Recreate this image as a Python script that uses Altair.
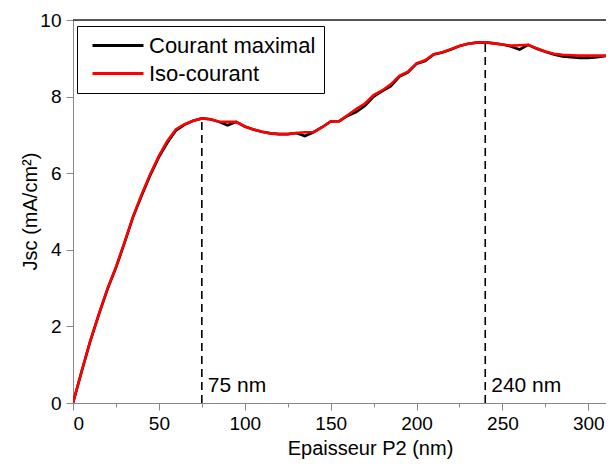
import altair as alt
import pandas as pd

# ---- data ----
thickness = list(range(0, 320, 5))
iso_courant = [0.0, 0.82, 1.62, 2.32, 2.98, 3.55, 4.20, 4.88, 5.45, 5.98,
               6.45, 6.85, 7.15, 7.28, 7.37, 7.43, 7.41, 7.35, 7.34, 7.34,
               7.22, 7.14, 7.08, 7.04, 7.02, 7.02, 7.05, 7.07, 7.07, 7.20,
               7.35, 7.36, 7.52, 7.68, 7.82, 8.04, 8.16, 8.32, 8.54, 8.65,
               8.87, 8.95, 9.11, 9.16, 9.24, 9.32, 9.38, 9.41, 9.42, 9.39,
               9.36, 9.33, 9.34, 9.35, 9.26, 9.18, 9.12, 9.09, 9.08, 9.07,
               9.07, 9.07, 9.07, 9.14]
courant_max = [0.0, 0.82, 1.60, 2.30, 2.96, 3.53, 4.18, 4.86, 5.42, 5.95,
               6.42, 6.80, 7.12, 7.27, 7.37, 7.43, 7.41, 7.34, 7.25, 7.34,
               7.22, 7.14, 7.08, 7.04, 7.02, 7.02, 7.05, 6.97, 7.07, 7.20,
               7.35, 7.36, 7.50, 7.60, 7.76, 8.00, 8.14, 8.27, 8.52, 8.63,
               8.86, 8.93, 9.10, 9.15, 9.23, 9.32, 9.38, 9.41, 9.42, 9.39,
               9.36, 9.31, 9.23, 9.35, 9.25, 9.17, 9.10, 9.05, 9.03, 9.01,
               9.01, 9.03, 9.06, 9.14]
series_names = ["Courant maximal", "Iso-courant"]
series_colors = ["black", "red"]

peak_x = [75, 240]
peak_y = [7.43, 9.42]
peak_labels = ["75 nm", "240 nm"]

x_ticks = list(range(0, 301, 25))
y_ticks = list(range(0, 11, 1))
x_domain = [0, 310.3]
y_domain = [0, 10]

# ---- tables ----
rows = []
for name, vals in zip(series_names, [courant_max, iso_courant]):
    for t, v in zip(thickness, vals):
        rows.append({"ep": t, "jsc": v, "serie": name})
df = pd.DataFrame(rows)
peaks = pd.DataFrame({"ep": peak_x, "jsc": peak_y, "lab": peak_labels,
                      "base": [y_domain[0]] * len(peak_x)})
frame = pd.DataFrame({"x0": [x_domain[0]], "x1": [x_domain[1]], "ytop": [y_domain[1]]})

FONT = "Liberation Sans"

x_scale = alt.Scale(domain=x_domain, nice=False, zero=False)
y_scale = alt.Scale(domain=y_domain, nice=False)

x_axis = alt.Axis(
    values=x_ticks, grid=False,
    labelExpr="datum.value % 50 == 0 ? datum.label : ''",
    tickSize={"condition": {"test": "datum.value % 50 == 0", "value": 7}, "value": 4},
    labelPadding=4, labelFontSize=19,
    title="Epaisseur P2 (nm)", titleFontSize=20, titleFontWeight="normal",
    titleX=297, titleY=51, titleBaseline="alphabetic",
)
y_axis = alt.Axis(
    values=y_ticks, grid=False,
    labelExpr="datum.value % 2 == 0 ? datum.label : ''",
    tickSize={"condition": {"test": "datum.value % 2 == 0", "value": 7}, "value": 4},
    labelPadding=5, labelFontSize=19,
    title="Jsc (mA/cm²)", titleFontSize=20, titleFontWeight="normal",
    titleX=-37, titleY=191, titleBaseline="alphabetic", titleAngle=-90,
)

lines = alt.Chart(df).mark_line(strokeWidth=2.6, clip=True).encode(
    x=alt.X("ep:Q", scale=x_scale, axis=x_axis),
    y=alt.Y("jsc:Q", scale=y_scale, axis=y_axis),
    color=alt.Color(
        "serie:N",
        scale=alt.Scale(domain=series_names, range=series_colors),
        legend=alt.Legend(
            title=None, orient="none", legendX=4, legendY=6,
            symbolType="M-1,0L4.1,0", symbolSize=400, symbolStrokeWidth=3,
            symbolOffset=6, labelFontSize=22, labelFont=FONT, labelOffset=35,
            labelLimit=0, strokeColor="black", fillColor="white", padding=8,
            rowPadding=5,
        ),
    ),
)

drops = alt.Chart(peaks).mark_rule(strokeDash=[8, 5], strokeWidth=1.6, color="black").encode(
    x="ep:Q", y="base:Q", y2="jsc:Q",
)

labels = alt.Chart(peaks).mark_text(
    align="left", baseline="alphabetic", dx=6, dy=-11, fontSize=21, font=FONT, color="black"
).encode(x="ep:Q", y="base:Q", text="lab:N")

top_frame = alt.Chart(frame).mark_rule(color="#222", strokeWidth=1.3).encode(
    x="x0:Q", x2="x1:Q", y="ytop:Q"
)

chart = alt.layer(top_frame, drops, lines, labels).properties(
    width=533, height=383,
    autosize=alt.AutoSizeParams(type="none"),
    padding={"left": 65, "top": 12, "right": 0, "bottom": 56},
).configure_view(stroke=None).configure_axis(
    grid=False, domainColor="black", domainWidth=1.3, tickColor="black",
    tickWidth=1.3, labelColor="black", titleColor="black",
    labelFont=FONT, titleFont=FONT,
).configure(background="white")

chart.save("out.html", embed_options={"renderer": "svg", "actions": False})
